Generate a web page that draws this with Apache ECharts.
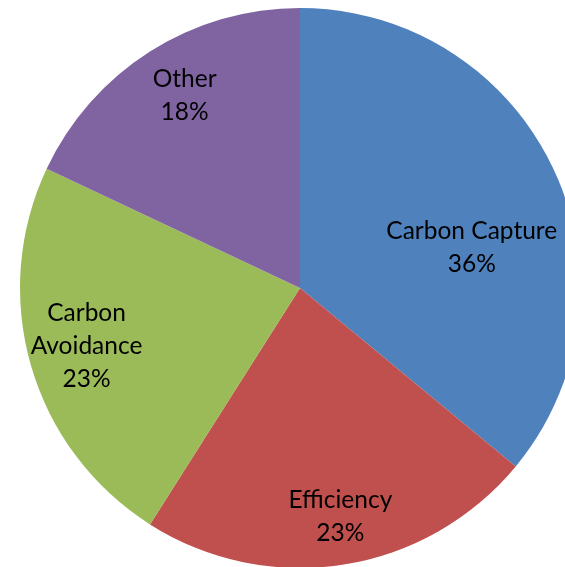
<!DOCTYPE html>
<html><head><meta charset="utf-8">
<script src="https://cdn.jsdelivr.net/npm/echarts@6/dist/echarts.min.js"></script>
<style>html,body{margin:0;padding:0;background:#fff}#c{width:565px;height:567px}</style>
</head><body><div id="c"></div>
<script>
const categories = ['Carbon Capture', 'Efficiency', 'Carbon Avoidance', 'Other'];
const labelTexts = ['Carbon Capture', 'Efficiency', 'Carbon\nAvoidance', 'Other'];
const values = [36, 23, 23, 18];
const colors = ['#4F81BD', '#C0504D', '#9BBB59', '#8064A2'];
// label placement tweaks (fraction of radius, extra rotation in degrees)
const labelRadius = [0.63, 0.83, 0.79, 0.80];
const labelRot = [12, -1, 1, 1.4];

const chart = echarts.init(document.getElementById('c'), null, {renderer: 'canvas'});
const CX = 300, CY = 288, R = 280;
chart.setOption({
  animation: false,
  series: [{
    type: 'pie',
    center: [CX, CY],
    radius: R,
    startAngle: 90,
    clockwise: true,
    label: {
      show: true,
      position: 'inside',
      color: '#000',
      fontFamily: 'Lato, "Open Sans", sans-serif',
      fontSize: 24.5,
      lineHeight: 33,
      align: 'center',
      formatter: p => labelTexts[p.dataIndex] + '\n' + Math.round(p.percent) + '%'
    },
    labelLine: {show: false},
    itemStyle: {borderWidth: 0},
    emphasis: {disabled: true},
    labelLayout: function (p) {
      const i = p.dataIndex;
      const r = p.labelRect;
      const mx = r.x + r.width / 2, my = r.y + r.height / 2;
      const ang = Math.atan2(my - CY, mx - CX) + labelRot[i] * Math.PI / 180;
      const L = labelRadius[i] * R;
      return {x: CX + L * Math.cos(ang), y: CY + L * Math.sin(ang), align: 'center', verticalAlign: 'middle'};
    },
    data: categories.map((c, i) => ({name: c, value: values[i], itemStyle: {color: colors[i]}}))
  }]
});
</script></body></html>
